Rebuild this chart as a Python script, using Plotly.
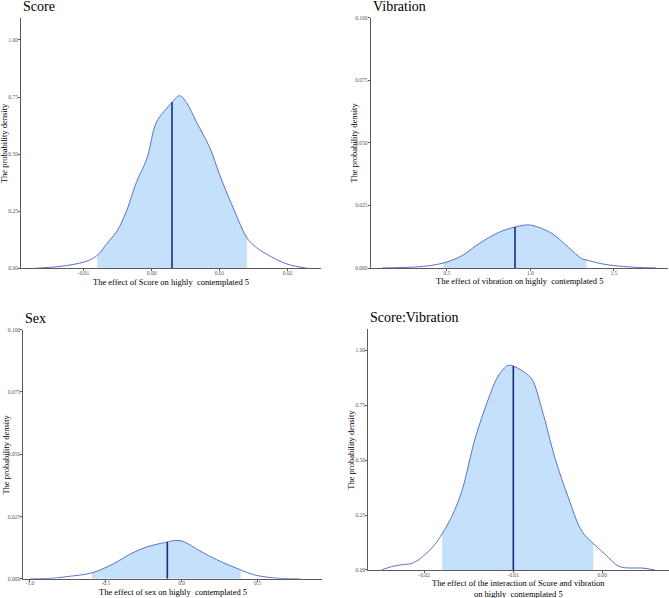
import numpy as np
import plotly.graph_objects as go

# ---------------- data ----------------
score_x = [-0.0172, -0.0125, -0.0091, -0.0078, -0.0066, -0.0051, -0.0037, -0.0022, -0.0007,
           0.0007, 0.0022, 0.0030, 0.0041, 0.0051, 0.0066, 0.0086, 0.0100, 0.0120, 0.0140,
           0.0150, 0.0169, 0.0199, 0.0229]
score_y = [0.0, 0.012, 0.036, 0.062, 0.108, 0.163, 0.25, 0.38, 0.48,
           0.64, 0.70, 0.727, 0.756, 0.727, 0.64, 0.525, 0.41, 0.264, 0.134,
           0.101, 0.062, 0.019, 0.0]
score_ci = [-0.0080, 0.0140]
score_median = 0.0030

vib_x = [0.112, 0.331, 0.430, 0.50, 0.590, 0.689, 0.809, 0.908, 0.958, 1.008, 1.127,
         1.227, 1.306, 1.336, 1.426, 1.526, 1.625, 1.755]
vib_y = [0.0, 0.0005, 0.0013, 0.0024, 0.0049, 0.0096, 0.0142, 0.0164, 0.0171, 0.0171, 0.0139,
         0.0083, 0.0038, 0.0032, 0.0017, 0.0008, 0.0003, 0.0]
vib_ci = [0.48, 1.337]
vib_median = 0.908

sex_x = [-1.0, -0.846, -0.758, -0.593, -0.451, -0.341, -0.231, -0.0945, -0.066, 0.0, 0.121,
         0.231, 0.389, 0.473, 0.604, 0.78]
sex_y = [0.0, 0.0003, 0.0009, 0.0024, 0.006, 0.0099, 0.0128, 0.0148, 0.0152, 0.0152, 0.0112,
         0.0077, 0.0036, 0.0017, 0.0004, 0.0]
sex_ci = [-0.593, 0.389]
sex_median = -0.0945

inter_x = [-0.0248, -0.0237, -0.0225, -0.0214, -0.0203, -0.0188, -0.0180, -0.0169, -0.0158,
           -0.0143, -0.0128, -0.0117, -0.0106, -0.0100, -0.0087, -0.0079, -0.0068, -0.0053,
           -0.0038, -0.0023, -0.0010, 0.0003, 0.0018, 0.0029, 0.0044, 0.0059]
inter_y = [0.0, 0.015, 0.024, 0.030, 0.057, 0.117, 0.165, 0.245, 0.358,
           0.598, 0.779, 0.884, 0.932, 0.929, 0.899, 0.869, 0.734, 0.508,
           0.328, 0.177, 0.120, 0.072, 0.018, 0.009, 0.009, 0.0]
inter_ci = [-0.0180, -0.0010]
inter_median = -0.0100

titles = ["Score", "Vibration", "Sex", "Score:Vibration"]
x_titles = ["The effect of Score on highly\u00a0 contemplated 5",
            "The effect of vibration on highly\u00a0 contemplated 5",
            "The effect of sex on highly\u00a0 contemplated 5",
            "The effect of the interaction of Score and vibration<br>on highly\u00a0 contemplated 5"]
y_title = "The probability density"

x_ticks = [[-0.01, 0.00, 0.01, 0.02], [0.5, 1.0, 1.5], [-1.0, -0.5, 0.0, 0.5], [-0.02, -0.01, 0.00]]
x_ticktext = [["-0.01", "0.00", "0.01", "0.02"], ["0.5", "1.0", "1.5"],
              ["-1.0", "-0.5", "0.0", "0.5"], ["-0.02", "-0.01", "0.00"]]
y_ticks = [[0.0, 0.25, 0.5, 0.75, 1.0], [0.0, 0.025, 0.05, 0.075, 0.1],
           [0.0, 0.025, 0.05, 0.075, 0.1], [0.0, 0.25, 0.5, 0.75, 1.0]]
y_ticktext = [["0.00", "0.25", "0.50", "0.75", "1.00"],
              ["0.000", "0.025", "0.050", "0.075", "0.100"],
              ["0.000", "0.025", "0.050", "0.075", "0.100"],
              ["0.00", "0.25", "0.50", "0.75", "1.00"]]

# ---------------- layout geometry (pixels) ----------------
W, H = 669, 598
# (left, right, top, bottom) pixel boxes of each plot area
boxes = [(21, 321, 15, 268), (370.7, 668, 15, 267.7), (23.3, 321.7, 330, 581.7), (368.3, 669, 329.3, 572.7)]
x_ranges = [[-0.0192, 0.0249], [0.044, 1.824], [-1.044, 0.923], [-0.0263, 0.0075]]
y_ranges = [[0, 1.097], [0, 0.1], [0, 0.1], [0, 1.098]]

FILL = "#c5e0fb"
LINE = "#5a72c8"
MED = "#1b2b82"
AX = "#5a5a5a"
FONT = "Liberation Serif"

series = [(score_x, score_y, score_ci, score_median),
          (vib_x, vib_y, vib_ci, vib_median),
          (sex_x, sex_y, sex_ci, sex_median),
          (inter_x, inter_y, inter_ci, inter_median)]

fig = go.Figure()
annotations = []
for i, (xs, ys, ci, med) in enumerate(series):
    xa = "x" if i == 0 else f"x{i+1}"
    ya = "y" if i == 0 else f"y{i+1}"
    xs_a = np.array(xs)
    ys_a = np.array(ys)
    lo, hi = ci
    inside = (xs_a > lo) & (xs_a < hi)
    sx = np.concatenate([[lo], xs_a[inside], [hi]])
    sy = np.concatenate([[np.interp(lo, xs_a, ys_a)], ys_a[inside], [np.interp(hi, xs_a, ys_a)]])
    fig.add_trace(go.Scatter(x=sx, y=sy, mode="lines", fill="tozeroy", fillcolor=FILL,
                             line=dict(width=0, color=FILL), line_shape="spline",
                             xaxis=xa, yaxis=ya, showlegend=False, hoverinfo="skip"))
    fig.add_trace(go.Scatter(x=xs, y=ys, mode="lines", line=dict(color=LINE, width=1, shape="spline"),
                             xaxis=xa, yaxis=ya, showlegend=False))
    fig.add_trace(go.Scatter(x=[med, med], y=[0, float(np.interp(med, xs_a, ys_a))], mode="lines",
                             line=dict(color=MED, width=1.6), xaxis=xa, yaxis=ya, showlegend=False))

    l, r, t, b = boxes[i]
    axis_common = dict(showgrid=False, zeroline=False, showline=True, linecolor=AX, linewidth=1,
                       ticks="outside", ticklen=2, tickwidth=1, tickcolor=AX,
                       tickfont=dict(family=FONT, size=5.5, color="#555555"))
    fig.update_layout(**{
        ("xaxis" if i == 0 else f"xaxis{i+1}"): dict(domain=[l / W, r / W], anchor=ya, range=x_ranges[i],
                                                     tickvals=x_ticks[i], ticktext=x_ticktext[i],
                                                     ticklabelstandoff=-3, **axis_common),
        ("yaxis" if i == 0 else f"yaxis{i+1}"): dict(domain=[1 - b / H, 1 - t / H], anchor=xa, range=y_ranges[i],
                                                     tickvals=y_ticks[i], ticktext=y_ticktext[i],
                                                     ticklabelstandoff=-1, **axis_common),
    })
    # panel title
    annotations.append(dict(text=titles[i], x=l / W, y=1 - (t - 2) / H, xref="paper", yref="paper",
                            xanchor="left", yanchor="bottom", showarrow=False,
                            font=dict(family=FONT, size=14, color="black")))
    # x title
    annotations.append(dict(text=x_titles[i], x=(l + r) / 2 / W,
                            y=1 - (b + 6.5) / H, xref="paper", yref="paper",
                            xanchor="center", yanchor="top", showarrow=False,
                            font=dict(family=FONT, size=8.5, color="black")))
    # y title
    annotations.append(dict(text=y_title, x=(l - 17) / W, y=1 - (t + b) / 2 / H, xref="paper", yref="paper",
                            xanchor="center", yanchor="middle", textangle=-90, showarrow=False,
                            font=dict(family=FONT, size=8.5, color="black")))

fig.update_layout(width=W, height=H, margin=dict(l=0, r=0, t=0, b=0),
                  paper_bgcolor="white", plot_bgcolor="white", annotations=annotations)
fig.write_html("out.html", config={"displayModeBar": False},
               post_script="document.body.style.margin='0';document.body.style.padding='0';")
